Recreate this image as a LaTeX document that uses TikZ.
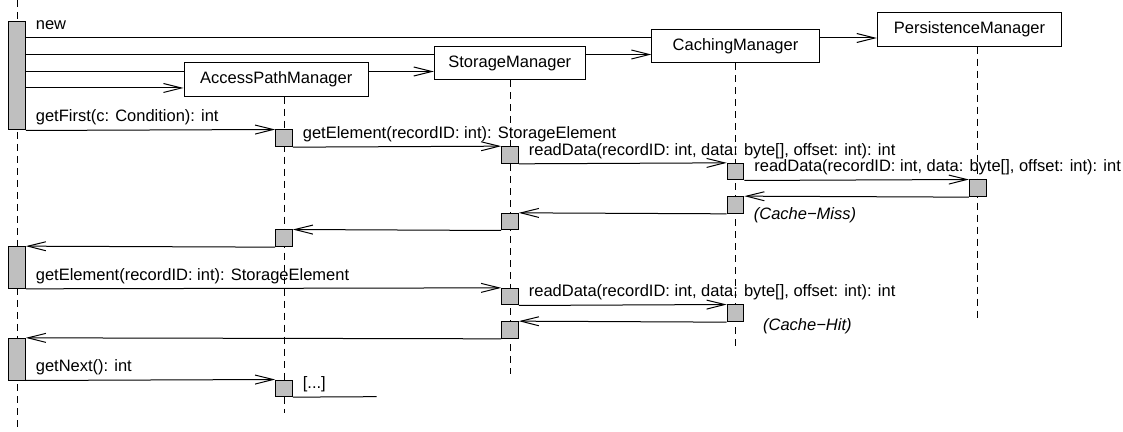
\documentclass[tikz,border=0pt]{standalone}
\usepackage{fontspec}
\setmainfont{Liberation Sans}
\usetikzlibrary{arrows.meta}
\usetikzlibrary{backgrounds}
\usetikzlibrary{calc}

\begin{document}
\begin{tikzpicture}
	[x=0.5pt,y=-0.5pt,font=\fontsize{8.25}{10}\selectfont,
	obj/.style={draw, fill=white, line width=0.5pt, minimum height=16.75pt, inner sep=0pt},
	act/.style={draw, fill=black!25, line width=0.5pt, minimum width=8.33pt, minimum height=8.33pt, inner sep=0pt},
	life/.style={dash pattern=on 3.5pt off 2.5pt, line width=0.5pt},
	msg/.style={-{Straight Barb[length=9pt,width=4.5pt]}, line width=0.5pt},
	lbl/.style={anchor=base west, inner sep=0pt, xshift=4.75pt, yshift=4.25pt},
	note/.style={anchor=base west, inner sep=0pt, font=\fontsize{8.25}{10}\selectfont\itshape}];

	\useasboundingbox (0,0) rectangle (1123,432);

	%Objects
	\node[obj, minimum width=92.2pt] (apm) at (276.2,79.5) {AccessPathManager};
	\node[obj, minimum width=75.5pt] (sm) at (509.8,63) {StorageManager};
	\node[obj, minimum width=83.6pt] (cm) at (735.5,46) {CachingManager};
	\node[obj, minimum width=92.2pt] (pm) at (969.5,29.5) {PersistenceManager};

	%Lifelines
	\coordinate (ctop) at (17,0);
	\coordinate (cend) at (17,432);
	\coordinate (apmend) at (284,413);
	\coordinate (smend) at (510,374);
	\coordinate (cmend) at (735.5,347);
	\coordinate (pmend) at (977.7,318);
	\begin{scope}[on background layer]
		\draw[life] (ctop) -- (cend);
		\draw[life] (apmend |- apm.south) -- (apmend);
		\draw[life] (smend |- sm.south) -- (smend);
		\draw[life] (cmend |- cm.south) -- (cmend);
		\draw[life] (pmend |- pm.south) -- (pmend);
	\end{scope}

	%Activations
	\node[act, minimum height=54pt] (c1) at (17,76) {};
	\node[act, minimum height=20.83pt] (c2) at (17,267.5) {};
	\node[act, minimum height=20.83pt] (c3) at (17,359.17) {};
	\node[act] (apm1) at (284,138.33) {};
	\node[act] (apm2) at (284,238.33) {};
	\node[act] (apm3) at (284,388.33) {};
	\node[act] (sm1) at (510,155) {};
	\node[act] (sm2) at (510,221.67) {};
	\node[act] (sm3) at (510,296.67) {};
	\node[act] (sm4) at (510,330) {};
	\node[act] (cm1) at (735.5,171.67) {};
	\node[act] (cm2) at (735.5,205) {};
	\node[act] (cm3) at (735.5,313.33) {};
	\node[act] (pm1) at (977.7,188.33) {};

	%Creation
	\coordinate (pmin) at ($(pm.west)+(0,8.5)$);
	\coordinate (cmin) at ($(cm.west)+(0,8.5)$);
	\coordinate (smin) at ($(sm.west)+(0,8.5)$);
	\coordinate (apmin) at ($(apm.west)+(0,8.5)$);
	\begin{scope}[on background layer]
		\draw[msg] (c1.east |- pmin) -- (pmin) node[lbl, pos=0] {new};
		\draw[msg] (c1.east |- cmin) -- (cmin);
		\draw[msg] (c1.east |- smin) -- (smin);
		\draw[msg] (c1.east |- apmin) -- (apmin);
	\end{scope}

	%getFirst
	\draw[msg] (c1.south east) -- (apm1.north west) node[lbl, pos=0] {getFirst(c: Condition): int};
	\draw[msg] (apm1.south east) -- (sm1.north west) node[lbl, pos=0] {getElement(recordID: int): StorageElement};
	\draw[msg] (sm1.south east) -- (cm1.north west) node[lbl, pos=0] {readData(recordID: int, data: byte[], offset: int): int};
	\draw[msg] (cm1.south east) -- (pm1.north west) node[lbl, pos=0] {readData(recordID: int, data: byte[], offset: int): int};
	\draw[msg] (pm1.south west) -- (cm2.north east) node[note, pos=1, xshift=4.5pt, yshift=-11.6pt] {(Cache−Miss)};
	\draw[msg] (cm2.south west) -- (sm2.north east);
	\draw[msg] (sm2.south west) -- (apm2.north east);
	\draw[msg] (apm2.south west) -- (c2.north east);

	%getElement
	\draw[msg] (c2.south east) -- (sm3.north west) node[lbl, pos=0] {getElement(recordID: int): StorageElement};
	\draw[msg] (sm3.south east) -- (cm3.north west) node[lbl, pos=0] {readData(recordID: int, data: byte[], offset: int): int};
	\draw[msg] (cm3.south west) -- (sm4.north east);
	\node[note, xshift=9.2pt, yshift=-4.2pt] (hit) at (cm3.south east) {(Cache−Hit)};
	\draw[msg] (sm4.south west) -- (c3.north east);

	%getNext
	\coordinate (more) at (376.7,396.67);
	\draw[msg] (c3.south east) -- (apm3.north west) node[lbl, pos=0] {getNext(): int};
	\draw[line width=0.5pt] (apm3.south east) -- (more) node[lbl, pos=0] {[...]};
\end{tikzpicture}
\end{document}
